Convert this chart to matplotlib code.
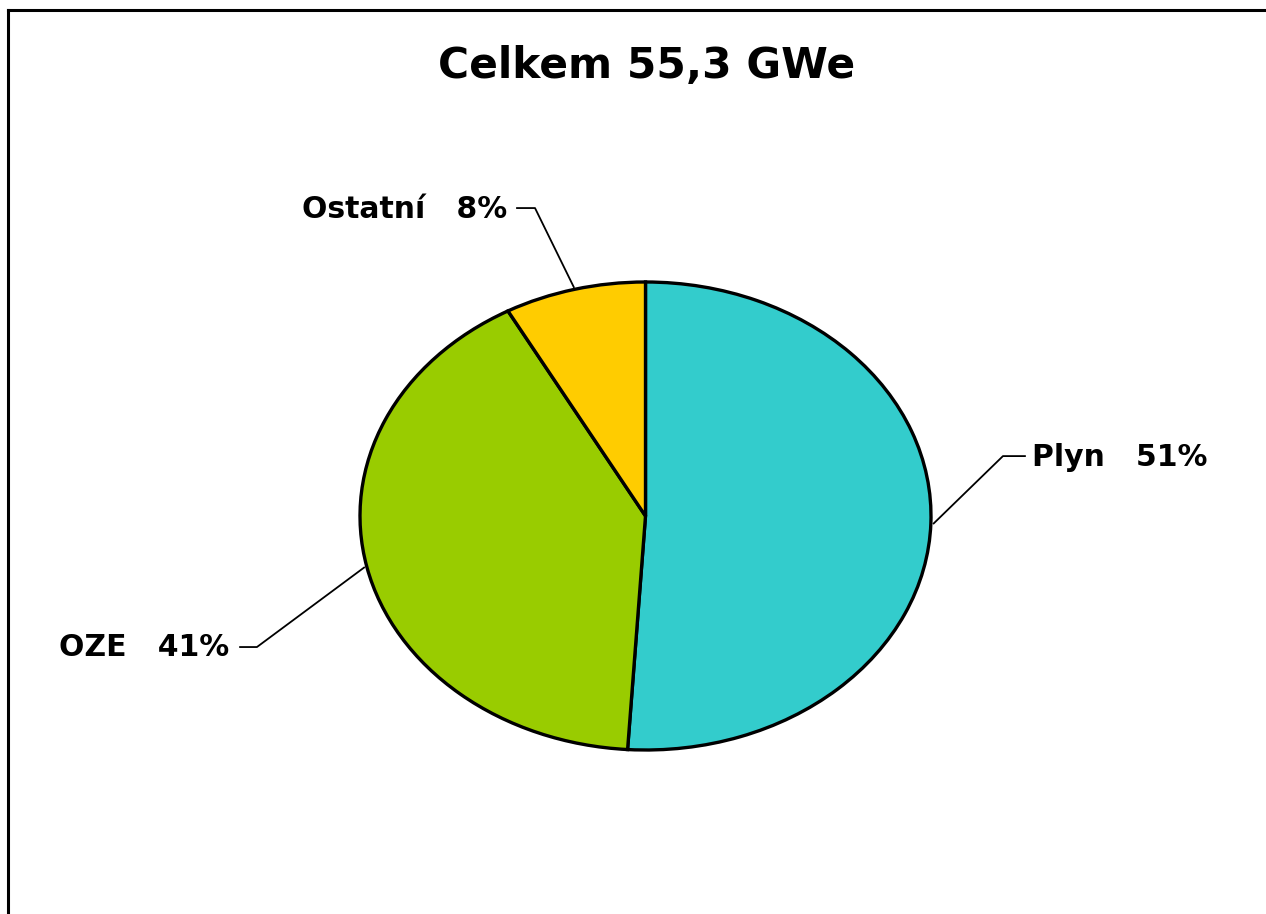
import numpy as np
import matplotlib
matplotlib.use("Agg")
import matplotlib.pyplot as plt
from matplotlib.lines import Line2D

# data
labels = ["Plyn", "OZE", "Ostatní"]
shares = [51, 41, 8]
colors = ["#33CCCC", "#99CC00", "#FFCC00"]
title = "Celkem 55,3 GWe"

# wide bold sans - the original text is stretched horizontally
plt.rcParams['font.family'] = ['DejaVu Sans']

W, H = 1266, 914
fig = plt.figure(figsize=(W / 100, H / 100), dpi=100)

# frame (only left and top edges visible)
fig.add_artist(Line2D([8 / W, 8 / W], [0, 1 - 10 / H], color="black", lw=2.2))
fig.add_artist(Line2D([8 / W, 1], [1 - 10 / H, 1 - 10 / H], color="black", lw=2.2))

# elliptical pie: axes box = ellipse bounding box
x0, x1, y0, y1 = 360, 931, 282, 750
ax = fig.add_axes([x0 / W, 1 - y1 / H, (x1 - x0) / W, (y1 - y0) / H])
wedges, _ = ax.pie(shares, colors=colors, startangle=90, counterclock=False,
                   wedgeprops=dict(edgecolor="black", linewidth=2.4))
ax.set_aspect("auto")
ax.set_xlim(-1, 1)
ax.set_ylim(-1, 1)
ax.axis("off")
for w in wedges:
    w.set_clip_on(False)

# leader lines + labels (elbow offsets, text side)
layout = {
    "Plyn": dict(elbow=(1.252, 0.256), end=(1.329, 0.256), text=(1.354, 0.252), ha="left"),
    "OZE": dict(elbow=(-1.361, -0.56), end=(-1.42, -0.56), text=(-1.459, -0.564), ha="right"),
    "Ostatní": dict(elbow=(-0.387, 1.316), end=(-0.45, 1.316), text=(-0.485, 1.308), ha="right"),
}
for w, lab, val in zip(wedges, labels, shares):
    mid = np.deg2rad((w.theta1 + w.theta2) / 2)
    ax_pt = (np.cos(mid) * 1.01, np.sin(mid) * 1.01)
    L = layout[lab]
    ax.plot([ax_pt[0], L["elbow"][0], L["end"][0]], [ax_pt[1], L["elbow"][1], L["end"][1]],
            color="black", lw=1.3, clip_on=False)
    ax.text(L["text"][0], L["text"][1], f"{lab}   {val}%", ha=L["ha"], va="center",
            fontsize=21.5, fontweight="bold", clip_on=False)

fig.text(647 / W, 1 - 66 / H, title, ha="center", va="center", fontsize=30.5, fontweight="bold")

fig.savefig("out.png", dpi=100)
